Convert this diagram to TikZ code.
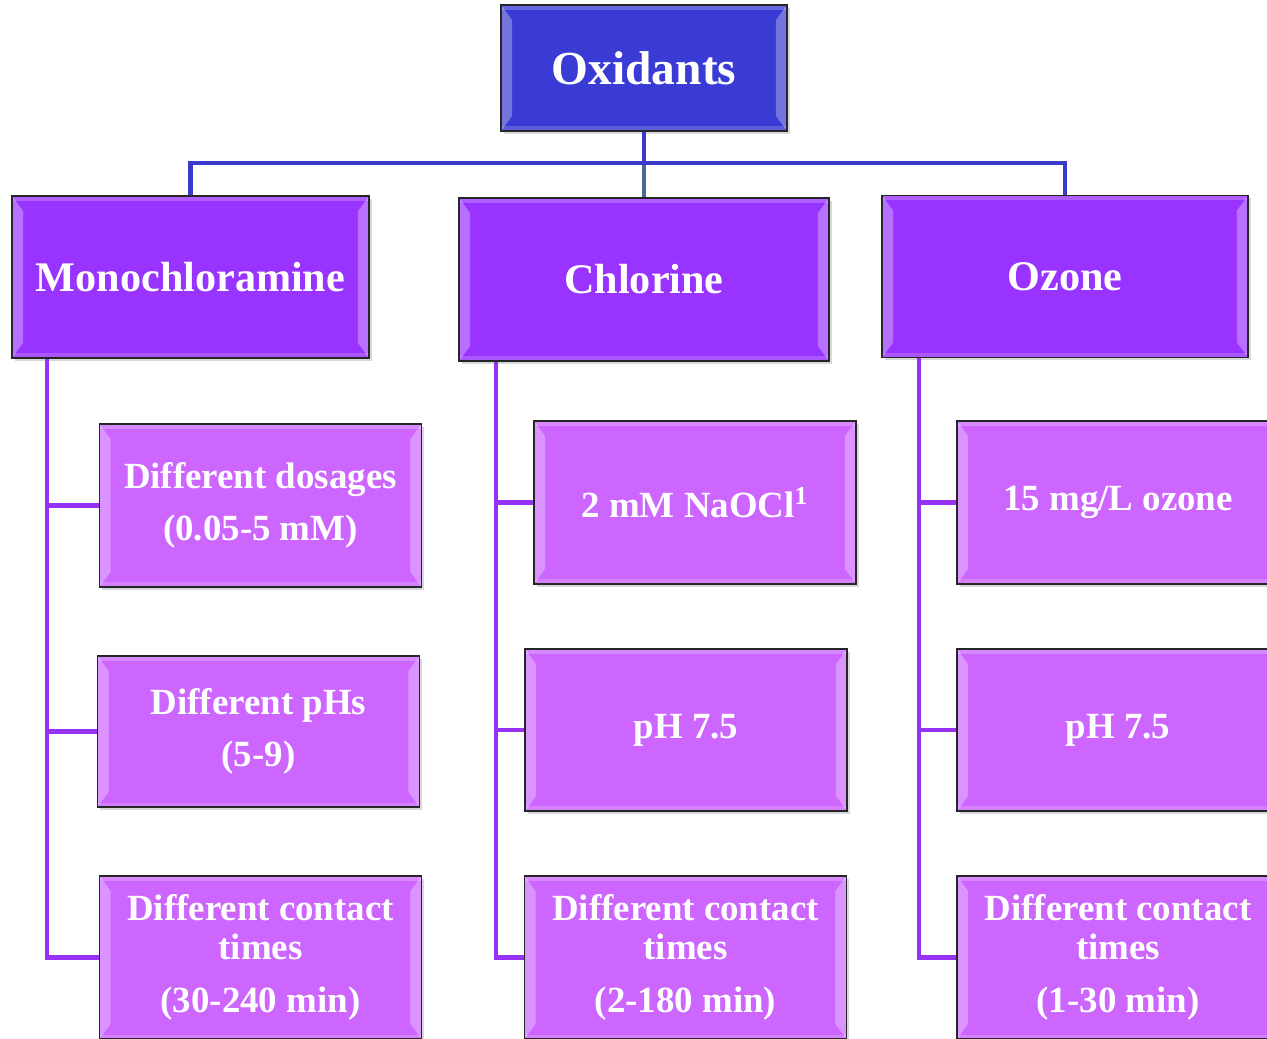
\documentclass[tikz,border=0pt]{standalone}
\usepackage{fontspec}
\setmainfont{Liberation Serif}
\usetikzlibrary{positioning, shadows}
\definecolor{cOx}{RGB}{58,58,212}
\definecolor{cCat}{RGB}{153,51,255}
\definecolor{cLeaf}{RGB}{204,102,255}
\definecolor{cBus}{RGB}{58,58,205}
\definecolor{cStem}{RGB}{74,106,150}
\definecolor{cSpine}{RGB}{150,50,245}

\tikzset{
  bevel/.style={path picture={
      \fill[white, opacity=.3] (path picture bounding box.south west) -- (path picture bounding box.north west)
        -- ++(0.22cm,-0.3cm) -- ([shift={(0.22cm,0.3cm)}]path picture bounding box.south west) -- cycle;
      \fill[white, opacity=.3] (path picture bounding box.south east) -- (path picture bounding box.north east)
        -- ++(-0.22cm,-0.3cm) -- ([shift={(-0.22cm,0.3cm)}]path picture bounding box.south east) -- cycle;
      \fill[white, opacity=.22] (path picture bounding box.north west) rectangle ([yshift=-0.09cm]path picture bounding box.north east);
      \fill[white, opacity=.18] (path picture bounding box.south west) rectangle ([yshift=0.09cm]path picture bounding box.south east);
  }},
  box/.style={draw=black!85, line width=0.9pt, text=white, align=center, inner sep=0pt, bevel,
      drop shadow={shadow xshift=1.5pt, shadow yshift=-1.5pt, opacity=.3}},
  ox/.style={box, fill=cOx, minimum width=5.72cm, minimum height=2.52cm,
      font=\fontsize{27}{32}\selectfont\bfseries},
  cat/.style={box, fill=cCat, minimum height=3.24cm,
      font=\fontsize{24}{29}\selectfont\bfseries},
  leaf/.style={box, fill=cLeaf, minimum width=6.44cm, minimum height=3.26cm,
      font=\fontsize{21}{30}\selectfont\bfseries},
  bus/.style={draw=cBus, line width=2.5pt},
  stem/.style={draw=cStem, line width=2.5pt},
  spine/.style={draw=cSpine, line width=2.5pt}
}

\begin{document}
\begin{tikzpicture}[x=0.02cm, y=-0.02cm]
    \fill[white] (0,0) rectangle (1267,1038);
    \useasboundingbox (0,0) rectangle (1267,1038);

    % Top level and categories
    \node[ox] (ox) at (644,68) {Oxidants};
    \node[cat, minimum width=7.14cm] (mono) at (190.5,277) {Monochloramine};
    \node[cat, minimum width=7.4cm, minimum height=3.26cm] (chl) at (644,279.5) {Chlorine};
    \node[cat, minimum width=7.32cm] (ozo) at (1065,276.5) {Ozone};

    % Conditions per oxidant
    \node[leaf] (m1) at (260.5,505.5) {Different dosages\\(0.05-5 mM)};
    \node[leaf, minimum height=3.02cm] (m2) at (258.5,731.5) {Different pHs\\(5-9)};
    \node[leaf] (m3) at (260.5,957.5) {Different contact\\[-8pt]times\\(30-240 min)};

    \node[leaf] (c1) at (695,502.5) {2 mM NaOCl\textsuperscript{1}};
    \node[leaf, minimum height=3.24cm] (c2) at (686,730) {pH 7.5};
    \node[leaf] (c3) at (685.5,957.5) {Different contact\\[-8pt]times\\(2-180 min)};

    \node[leaf] (z1) at (1118,502.5) {15 mg/L ozone};
    \node[leaf, minimum height=3.24cm] (z2) at (1118,730) {pH 7.5};
    \node[leaf] (z3) at (1118,957.5) {Different contact\\[-8pt]times\\(1-30 min)};

    % Connectors
    \coordinate (bus) at (644,163);
    \draw[bus] (ox) -- (bus);
    \draw[stem] (bus) -- (chl);
    \draw[bus] (mono.north) |- (bus) -| (ozo.north);

    \draw[spine] ([xshift=0.72cm]mono.south west) |- (m1.west);
    \draw[spine] ([xshift=0.72cm]mono.south west) |- (m2.west);
    \draw[spine] ([xshift=0.72cm]mono.south west) |- (m3.west);

    \draw[spine] ([xshift=0.76cm]chl.south west) |- (c1.west);
    \draw[spine] ([xshift=0.76cm]chl.south west) |- (c2.west);
    \draw[spine] ([xshift=0.76cm]chl.south west) |- (c3.west);

    \draw[spine] ([xshift=0.76cm]ozo.south west) |- (z1.west);
    \draw[spine] ([xshift=0.76cm]ozo.south west) |- (z2.west);
    \draw[spine] ([xshift=0.76cm]ozo.south west) |- (z3.west);

\end{tikzpicture}
\end{document}
